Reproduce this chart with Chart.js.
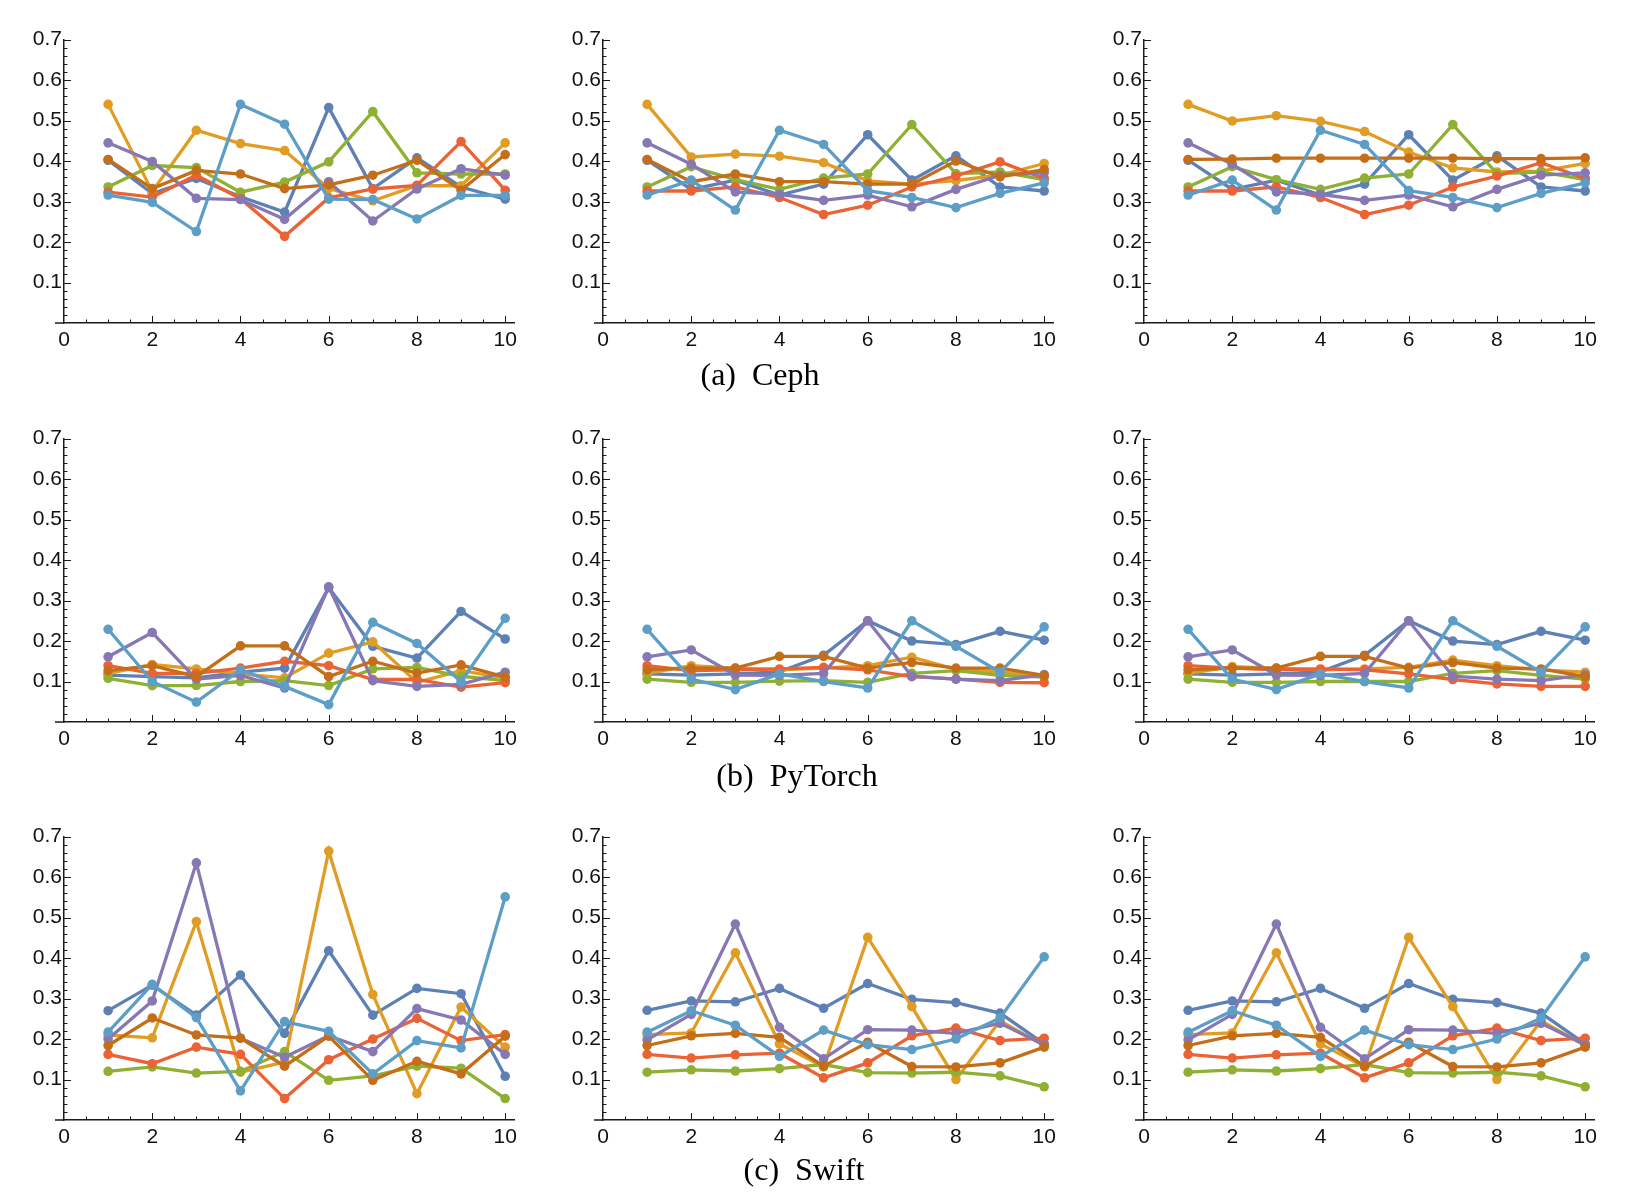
<!DOCTYPE html>
<html>
<head>
<meta charset="utf-8">
<script src="https://cdn.jsdelivr.net/npm/chart.js@4.4.1/dist/chart.umd.min.js"></script>
<style>
  body { margin: 0; background: #fff; }
  #fig { position: relative; width: 1628px; height: 1200px; }
  canvas { position: absolute; }
  .caption {
    position: absolute;
    font-family: "Liberation Serif", "Times New Roman", serif;
    font-size: 32px;
    line-height: 32px;
    color: #000;
    transform: translateX(-50%);
    white-space: nowrap;
  }
</style>
</head>
<body>
<div id="fig"></div>
<script>
const xValues = [1, 2, 3, 4, 5, 6, 7, 8, 9, 10];
const xTicks = [0, 2, 4, 6, 8, 10];
const yTicks = [0.1, 0.2, 0.3, 0.4, 0.5, 0.6, 0.7];
const captions = ['(a)\u2002Ceph', '(b)\u2002PyTorch', '(c)\u2002Swift'];

// Mathematica default palette, series 1..7
const colors = ['#5E81B5', '#E19C24', '#8FB032', '#EB6235', '#8778B3', '#C56E1A', '#5D9EC7'];

// row 1 : Ceph
const cephLeft = [
  [0.402, 0.320, 0.357, 0.312, 0.274, 0.532, 0.332, 0.408, 0.336, 0.306],
  [0.540, 0.325, 0.476, 0.443, 0.426, 0.332, 0.302, 0.339, 0.339, 0.445],
  [0.336, 0.389, 0.384, 0.323, 0.348, 0.398, 0.522, 0.371, 0.368, 0.368],
  [0.323, 0.311, 0.365, 0.307, 0.214, 0.309, 0.331, 0.340, 0.448, 0.328],
  [0.445, 0.399, 0.308, 0.305, 0.256, 0.349, 0.252, 0.331, 0.381, 0.365],
  [0.404, 0.332, 0.377, 0.368, 0.332, 0.341, 0.365, 0.402, 0.328, 0.416],
  [0.316, 0.298, 0.226, 0.540, 0.491, 0.306, 0.305, 0.257, 0.315, 0.315],
];
const cephMid = [
  [0.402, 0.330, 0.353, 0.316, 0.343, 0.465, 0.353, 0.413, 0.336, 0.326],
  [0.540, 0.410, 0.417, 0.412, 0.396, 0.351, 0.343, 0.352, 0.365, 0.394],
  [0.336, 0.386, 0.354, 0.330, 0.358, 0.368, 0.490, 0.369, 0.373, 0.354],
  [0.326, 0.326, 0.336, 0.310, 0.268, 0.291, 0.336, 0.363, 0.398, 0.357],
  [0.445, 0.392, 0.324, 0.318, 0.303, 0.316, 0.287, 0.330, 0.365, 0.371],
  [0.404, 0.349, 0.368, 0.349, 0.349, 0.343, 0.343, 0.400, 0.361, 0.379],
  [0.316, 0.353, 0.279, 0.476, 0.441, 0.327, 0.310, 0.285, 0.320, 0.346],
];
const cephRight = [
  [0.402, 0.330, 0.353, 0.316, 0.343, 0.465, 0.353, 0.413, 0.336, 0.326],
  [0.540, 0.499, 0.512, 0.498, 0.473, 0.422, 0.383, 0.373, 0.375, 0.394],
  [0.336, 0.386, 0.354, 0.330, 0.358, 0.368, 0.490, 0.369, 0.373, 0.354],
  [0.326, 0.326, 0.336, 0.310, 0.268, 0.291, 0.336, 0.363, 0.396, 0.357],
  [0.445, 0.392, 0.324, 0.318, 0.303, 0.316, 0.287, 0.330, 0.365, 0.371],
  [0.404, 0.405, 0.407, 0.407, 0.407, 0.407, 0.407, 0.406, 0.406, 0.408],
  [0.316, 0.353, 0.279, 0.476, 0.441, 0.327, 0.310, 0.285, 0.320, 0.346],
];

// row 2 : PyTorch
const torchLeft = [
  [0.116, 0.112, 0.109, 0.123, 0.133, 0.332, 0.187, 0.158, 0.273, 0.205],
  [0.120, 0.142, 0.131, 0.119, 0.109, 0.170, 0.198, 0.098, 0.127, 0.109],
  [0.108, 0.090, 0.090, 0.100, 0.102, 0.090, 0.131, 0.135, 0.113, 0.102],
  [0.139, 0.120, 0.120, 0.133, 0.150, 0.139, 0.105, 0.105, 0.086, 0.097],
  [0.161, 0.221, 0.106, 0.115, 0.084, 0.334, 0.102, 0.088, 0.093, 0.123],
  [0.127, 0.139, 0.112, 0.188, 0.188, 0.112, 0.150, 0.121, 0.141, 0.111],
  [0.229, 0.100, 0.049, 0.129, 0.088, 0.043, 0.246, 0.194, 0.100, 0.256],
];
const torchMid = [
  [0.119, 0.116, 0.119, 0.124, 0.165, 0.250, 0.200, 0.191, 0.224, 0.202],
  [0.120, 0.139, 0.133, 0.129, 0.133, 0.139, 0.160, 0.130, 0.123, 0.115],
  [0.106, 0.098, 0.098, 0.101, 0.102, 0.098, 0.120, 0.127, 0.115, 0.111],
  [0.139, 0.127, 0.129, 0.131, 0.135, 0.129, 0.112, 0.106, 0.098, 0.097],
  [0.161, 0.178, 0.116, 0.115, 0.120, 0.250, 0.113, 0.106, 0.102, 0.117],
  [0.129, 0.133, 0.133, 0.162, 0.162, 0.133, 0.147, 0.133, 0.133, 0.115],
  [0.229, 0.106, 0.080, 0.119, 0.100, 0.084, 0.250, 0.187, 0.123, 0.235],
];
const torchRight = [
  [0.119, 0.116, 0.119, 0.124, 0.165, 0.250, 0.200, 0.191, 0.224, 0.202],
  [0.120, 0.137, 0.133, 0.129, 0.131, 0.135, 0.153, 0.139, 0.129, 0.123],
  [0.106, 0.098, 0.098, 0.100, 0.100, 0.100, 0.120, 0.127, 0.115, 0.106],
  [0.139, 0.133, 0.129, 0.131, 0.129, 0.119, 0.105, 0.094, 0.088, 0.088],
  [0.161, 0.178, 0.116, 0.115, 0.120, 0.250, 0.113, 0.106, 0.102, 0.117],
  [0.129, 0.133, 0.133, 0.162, 0.162, 0.133, 0.147, 0.133, 0.131, 0.112],
  [0.229, 0.106, 0.080, 0.119, 0.100, 0.084, 0.250, 0.187, 0.123, 0.235],
];

// row 3 : Swift
const swiftLeft = [
  [0.270, 0.333, 0.259, 0.358, 0.214, 0.418, 0.259, 0.325, 0.312, 0.108],
  [0.210, 0.203, 0.490, 0.118, 0.143, 0.664, 0.310, 0.065, 0.279, 0.180],
  [0.120, 0.131, 0.116, 0.120, 0.169, 0.098, 0.109, 0.133, 0.128, 0.053],
  [0.162, 0.139, 0.180, 0.162, 0.053, 0.149, 0.200, 0.251, 0.196, 0.211],
  [0.200, 0.294, 0.635, 0.202, 0.155, 0.208, 0.169, 0.275, 0.247, 0.162],
  [0.184, 0.252, 0.210, 0.202, 0.133, 0.207, 0.098, 0.145, 0.114, 0.207],
  [0.217, 0.335, 0.253, 0.072, 0.243, 0.219, 0.114, 0.196, 0.178, 0.551],
];
const swiftMid = [
  [0.271, 0.294, 0.292, 0.325, 0.276, 0.337, 0.298, 0.290, 0.264, 0.188],
  [0.211, 0.215, 0.413, 0.188, 0.131, 0.451, 0.280, 0.100, 0.245, 0.184],
  [0.118, 0.124, 0.121, 0.127, 0.137, 0.117, 0.116, 0.118, 0.109, 0.082],
  [0.162, 0.153, 0.161, 0.165, 0.104, 0.141, 0.208, 0.227, 0.196, 0.202],
  [0.198, 0.261, 0.484, 0.229, 0.151, 0.223, 0.222, 0.214, 0.239, 0.186],
  [0.184, 0.208, 0.214, 0.204, 0.133, 0.192, 0.132, 0.131, 0.141, 0.180],
  [0.217, 0.270, 0.234, 0.157, 0.222, 0.186, 0.174, 0.200, 0.252, 0.403],
];
const swiftRight = [
  [0.271, 0.294, 0.292, 0.325, 0.276, 0.337, 0.298, 0.290, 0.264, 0.188],
  [0.211, 0.215, 0.413, 0.188, 0.131, 0.451, 0.280, 0.100, 0.245, 0.184],
  [0.118, 0.124, 0.121, 0.127, 0.137, 0.117, 0.116, 0.118, 0.109, 0.082],
  [0.162, 0.153, 0.161, 0.165, 0.104, 0.141, 0.208, 0.227, 0.196, 0.202],
  [0.198, 0.261, 0.484, 0.229, 0.151, 0.223, 0.222, 0.214, 0.239, 0.186],
  [0.184, 0.208, 0.214, 0.204, 0.133, 0.192, 0.132, 0.131, 0.141, 0.180],
  [0.217, 0.270, 0.234, 0.157, 0.222, 0.186, 0.174, 0.200, 0.252, 0.403],
];

const panels = [
  [cephLeft, cephMid, cephRight],
  [torchLeft, torchMid, torchRight],
  [swiftLeft, swiftMid, swiftRight],
];

// layout of the figure (pixels)
const colX0 = [64, 603, 1144];   // pixel of x = 0
const rowTop = [39, 438, 836];   // pixel of y = 0.7
const plotW = 450;               // x from 0 to 10.2
const plotH = 284;               // y from 0 to 0.7
const padL = 56, padT = 14, padR = 18, padB = 40;
const captionPos = [[760, 358], [797, 759], [804, 1153]];

const axisColor = '#1a1a1a';
const fontFamily = '"Liberation Sans", Arial, sans-serif';

// Mathematica style inward ticks, x axis runs a bit left of the y axis
const innerTicks = {
  id: 'innerTicks',
  afterDraw(chart) {
    const ctx = chart.ctx;
    const xs = chart.scales.x;
    const ys = chart.scales.y;
    const x0 = ys.right;
    const y0 = xs.top;
    ctx.save();
    ctx.strokeStyle = axisColor;
    ctx.lineWidth = 1.5;
    ctx.beginPath();
    ctx.moveTo(x0 - 9, y0);
    ctx.lineTo(x0, y0);
    ctx.stroke();
    ctx.lineWidth = 1;
    ctx.beginPath();
    for (let i = 1; i <= 20; i++) {
      const v = i * 0.5;
      const px = Math.round(xs.getPixelForValue(v)) + 0.5;
      const len = i % 4 === 0 ? 7 : 3.5;
      ctx.moveTo(px, y0);
      ctx.lineTo(px, y0 - len);
    }
    for (let i = 1; i <= 35; i++) {
      const v = i * 0.02;
      const py = Math.round(ys.getPixelForValue(v)) + 0.5;
      const len = i % 5 === 0 ? 7 : 3.5;
      ctx.moveTo(x0, py);
      ctx.lineTo(x0 + len, py);
    }
    ctx.stroke();
    ctx.restore();
  }
};

const fig = document.getElementById('fig');

panels.forEach((row, r) => {
  row.forEach((series, c) => {
    const canvas = document.createElement('canvas');
    const w = padL + plotW + padR;
    const h = padT + plotH + padB;
    canvas.width = w;
    canvas.height = h;
    canvas.style.left = (colX0[c] - padL) + 'px';
    canvas.style.top = (rowTop[r] - padT) + 'px';
    canvas.style.width = w + 'px';
    canvas.style.height = h + 'px';
    fig.appendChild(canvas);

    new Chart(canvas, {
      type: 'line',
      data: {
        datasets: series.map((vals, i) => ({
          data: vals.map((v, k) => ({ x: xValues[k], y: v })),
          borderColor: colors[i],
          backgroundColor: colors[i],
          pointBackgroundColor: colors[i],
          pointBorderWidth: 0,
          pointRadius: 4.8,
          borderWidth: 3.3,
          tension: 0,
          fill: false,
          order: series.length - 1 - i,
        })),
      },
      options: {
        responsive: false,
        animation: false,
        devicePixelRatio: 1,
        layout: { padding: { left: 0, top: padT, right: padR, bottom: 0 } },
        plugins: { legend: { display: false }, tooltip: { enabled: false } },
        scales: {
          x: {
            type: 'linear',
            min: 0,
            max: 10.2,
            grid: { display: false, drawTicks: false },
            border: { display: true, color: axisColor, width: 1.5 },
            ticks: {
              color: '#111',
              font: { family: fontFamily, size: 21 },
              padding: 5,
              maxRotation: 0,
              autoSkip: false,
            },
            afterBuildTicks: (s) => { s.ticks = xTicks.map((v) => ({ value: v })); },
            afterFit: (s) => { s.height = padB; },
          },
          y: {
            type: 'linear',
            min: 0,
            max: 0.7,
            grid: { display: false, drawTicks: false },
            border: { display: true, color: axisColor, width: 1.5 },
            ticks: {
              color: '#111',
              font: { family: fontFamily, size: 21 },
              padding: 2,
              callback: (v) => Number(v).toFixed(1),
            },
            afterBuildTicks: (s) => { s.ticks = yTicks.map((v) => ({ value: v })); },
            afterFit: (s) => { s.width = padL; },
          },
        },
      },
      plugins: [innerTicks],
    });
  });

  const cap = document.createElement('div');
  cap.className = 'caption';
  cap.textContent = captions[r];
  cap.style.left = captionPos[r][0] + 'px';
  cap.style.top = captionPos[r][1] + 'px';
  fig.appendChild(cap);
});
</script>
</body>
</html>
